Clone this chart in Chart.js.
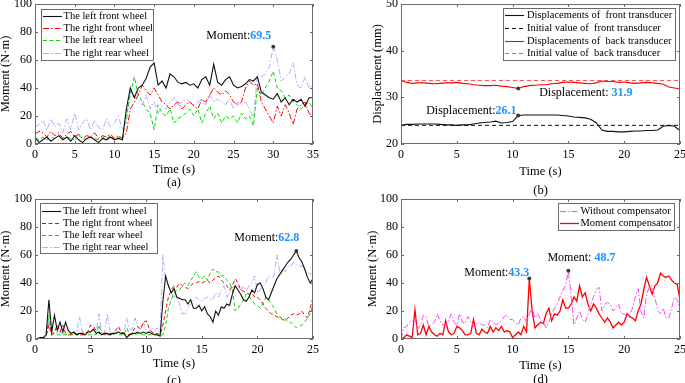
<!DOCTYPE html>
<html>
<head>
<meta charset="utf-8">
<script src="https://cdn.jsdelivr.net/npm/chart.js@4.4.0/dist/chart.umd.min.js"></script>
<style>
  html, body { margin: 0; padding: 0; background: #fff; }
  #fig { position: relative; width: 685px; height: 383px; overflow: hidden; }
  #fig canvas { position: absolute; }
</style>
</head>
<body>
<div id="fig">
  <canvas id="chartA"></canvas>
  <canvas id="chartB"></canvas>
  <canvas id="chartC"></canvas>
  <canvas id="chartD"></canvas>
</div>
<script>
  // sample times (s)
  function sampleTimes(start, end, step) {
    var out = [];
    for (var i = 0; start + i * step <= end + 1e-9; i++) out.push(+(start + i * step).toFixed(2));
    return out;
  }
  var timeA = sampleTimes(0, 35, 0.5);
  var timeB = sampleTimes(0, 25, 0.5);
  var timeC = sampleTimes(0, 25, 0.25);
  var timeD = sampleTimes(0, 25, 0.25);

  var xTicksA = [0, 5, 10, 15, 20, 25, 30, 35];
  var xTicksBCD = [0, 5, 10, 15, 20, 25];
  var yTicksMoment = [0, 20, 40, 60, 80, 100];
  var yTicksDisp = [20, 30, 40, 50];

  // (a) moments, N·m
  var leftFrontA = [
    5,1,3,5,2,4,6,3,5,2,
    6,3,1,4,5,3,1,4,3,5,
    3,4,3,25,40,33,40,42,47,55,
    58,42,45,40,50,48,44,43,44,42,
    43,40,46,48,42,57,44,42,46,48,
    42,40,41,43,46,45,48,37,35,33,
    32,36,30,33,28,32,30,32,27,33,
    33];
  var rightFrontA = [
    7,9,8,5,9,6,8,4,7,9,
    5,7,4,6,5,8,4,6,5,7,
    4,6,4,8,25,30,35,42,38,35,
    40,35,30,28,25,28,30,25,28,30,
    27,25,32,30,35,40,37,35,38,35,
    30,28,30,40,45,42,43,30,25,20,
    15,27,20,28,22,14,25,28,30,22,
    20];
  var leftRearA = [
    4,3,5,3,5,4,6,3,5,4,
    3,6,4,3,5,4,3,5,4,6,
    3,5,4,20,35,48,35,30,25,22,
    10,28,22,20,25,15,18,20,22,25,
    20,25,15,22,27,18,22,15,20,18,
    20,15,22,18,20,13,40,35,40,45,
    52,40,38,33,35,30,28,25,28,30,
    25];
  var rightRearA = [
    12,14,17,10,18,12,15,8,18,10,
    22,10,15,18,10,17,12,10,18,12,
    15,20,10,15,38,35,30,28,35,25,
    30,22,27,25,30,33,28,30,32,30,
    28,30,32,28,35,30,32,30,28,32,
    25,30,28,30,25,18,50,48,50,55,
    69.5,60,45,48,50,58,42,40,48,40,
    42];

  // (b) displacements, mm
  var frontDispB = [
    24.0,24.2,24.2,24.3,24.3,24.3,24.3,24.2,24.1,24.1,
    24.0,24.1,24.1,24.3,24.5,24.6,24.7,24.9,24.5,24.6,
    24.8,26.1,26.2,26.2,26.2,26.2,26.2,26.2,26.2,26.1,
    26.0,25.8,25.7,25.6,25.3,24.5,23.0,22.7,22.7,22.6,
    22.6,22.7,22.8,22.8,22.9,22.9,23.0,23.8,24.0,23.8,
    22.9];
  var backDispB = [
    33.6,33.2,33.0,33.1,33.1,33.0,32.9,33.0,33.1,33.1,
    33.2,33.0,32.9,32.7,32.6,32.5,32.5,32.6,32.4,32.3,
    32.1,31.9,32.3,32.5,32.6,32.7,32.7,32.9,33.0,33.2,
    33.3,33.2,33.1,33.0,32.9,33.1,33.5,33.4,33.4,33.2,
    33.3,33.1,33.0,33.1,33.2,33.1,33.0,32.8,32.2,32.0,
    31.8];
  var frontInitialB = 24.0;
  var backInitialB = 33.6;

  // (c) moments, N·m
  var leftFrontC = [
    0,0.5,1,1,  3,28,5,17,  6,12,5,12,  6,4,5,3,  4,4,3,5,
    5,7,4,5,  3,4,4,3,  4,4,5,4,  4,1,3,4,  4,5,4,5,
    4,5,4,3,  3,2,27,45,  38,33,36,30,  29,28,28,25,  28,22,22,24,
    20,23,18,16,  12,20,17,23,  22,25,24,32,  38,35,32,28,  27,30,35,33,
    39,40,36,30,  28,33,38,43,  46,49,52,55,  57,60,62.8,58,  55,50,44,40,
    43];
  var rightFrontC = [
    0,0,0,1,  2,10,3,5,  10,5,10,4,  3,3,4,3,  3,3,4,5,
    10,9,6,4,  4,3,4,4,  4,6,9,5,  4,3,3,5,  8,9,7,12,
    13,8,5,4,  4,3,10,20,  30,35,38,37,  40,38,37,36,  38,40,40,41,
    40,41,42,40,  42,44,45,42,  40,38,35,38,  43,40,35,34,  33,32,33,30,
    30,28,25,22,  20,18,17,16,  15,14,13,15,  17,18,17,18,  20,17,15,22,
    30];
  var leftRearC = [
    0,0,0,1,  2,17,3,4,  3,3,3,3,  4,3,3,4,  3,3,3,3,
    3,3,3,10,  4,3,3,3,  3,4,3,3,  3,8,3,3,  3,4,3,3,
    3,3,3,3,  3,3,3,10,  22,28,33,35,  35,38,40,38,  42,45,48,44,
    43,45,42,47,  50,48,48,45,  45,42,40,35,  20,22,25,28,  32,30,28,25,
    24,22,25,30,  28,25,22,18,  16,15,14,12,  12,10,8,9,  10,12,15,18,
    25];
  var rightRearC = [
    0,0,0,1,  2,12,4,5,  4,5,4,4,  5,4,4,5,  16,5,5,4,
    5,6,5,18,  5,4,18,5,  4,5,5,4,  5,15,7,7,  15,8,7,12,
    5,5,8,6,  8,5,60,40,  38,33,30,30,  25,18,18,22,  25,28,30,28,
    27,29,30,28,  28,33,30,35,  38,30,33,37,  37,38,35,38,  35,38,40,45,
    33,35,38,40,  45,44,45,60,  48,50,48,52,  52,55,53,52,  52,50,48,46,
    50];

  // (d) moments, N·m
  var withoutCompD = [
    0,8,9,12,  13,14,7,10,  17,16,9,10,  12,18,13,10,  10,13,18,12,
    10,18,12,11,  16,12,9,10,  12,10,10,8,  14,12,10,12,  13,16,17,14,
    14,12,10,15,  16,12,18,22,  15,18,14,12,  8,12,18,22,  25,30,35,38,
    48.7,30,10,15,  20,14,12,18,  25,30,35,37,  20,25,26,25,  20,22,25,18,
    18,16,18,22,  30,36,20,15,  32,37,38,30,  20,18,22,15,  15,22,30,28,
    22];
  var momentCompD = [
    0,1,3,2,  1,21,3,4,  10,3,9,5,  3,2,4,3,  13,5,3,4,
    9,8,6,3,  3,4,14,4,  3,7,5,4,  9,5,8,6,  9,5,6,5,
    1,3,5,3,  9,5,43.3,20,  8,10,12,11,  18,22,13,18,  17,20,28,22,
    22,25,30,27,  38,30,33,25,  20,25,22,18,  15,12,15,12,  8,10,12,10,
    12,18,16,15,  13,20,25,35,  44,38,32,38,  40,47,45,44,  45,42,40,39,
    28];

  // marked peaks: time (s), value
  var peaksA = [{ t: 30, v: 69.5 }];
  var peaksB = [{ t: 10.5, v: 31.9 }, { t: 10.5, v: 26.1 }];
  var peaksC = [{ t: 23.5, v: 62.8 }];
  var peaksD = [{ t: 11.5, v: 43.3 }, { t: 15, v: 48.7 }];

  var serif = "'Times New Roman', 'Liberation Serif', serif";
  var frameColor = '#6a6a6a';
  var noteBlue = '#1e90ff';
  var dashDot = [6, 2, 1.5, 2];
  var dashed = [4, 2.5];

  function pts(times, values) {
    return values.map(function(v, i) { return { x: times[i], y: v }; });
  }

  function line(label, times, values, color, dash, width) {
    return {
      label: label,
      data: pts(times, values),
      borderColor: color,
      borderDash: dash || [],
      borderWidth: width || 1,
      pointRadius: 0,
      tension: 0,
      fill: false
    };
  }

  var figurePlugin = {
    id: 'figure',
    afterDatasetsDraw: function(chart, args, opts) {
      var ctx = chart.ctx, a = chart.chartArea;
      var xs = chart.scales.x, ys = chart.scales.y;
      ctx.save();

      // box and inward ticks
      ctx.strokeStyle = frameColor;
      ctx.lineWidth = 1;
      ctx.setLineDash([]);
      ctx.beginPath();
      xs.ticks.forEach(function(t) {
        var px = Math.round(xs.getPixelForValue(t.value)) + 0.5;
        ctx.moveTo(px, a.bottom); ctx.lineTo(px, a.bottom - 3);
        ctx.moveTo(px, a.top); ctx.lineTo(px, a.top + 3);
      });
      ys.ticks.forEach(function(t) {
        var py = Math.round(ys.getPixelForValue(t.value)) + 0.5;
        ctx.moveTo(a.left, py); ctx.lineTo(a.left + 3, py);
        ctx.moveTo(a.right, py); ctx.lineTo(a.right - 3, py);
      });
      ctx.stroke();
      ctx.strokeRect(a.left + 0.5, a.top + 0.5, a.right - a.left - 1, a.bottom - a.top - 1);

      // peak markers and notes
      (opts.notes || []).forEach(function(n) {
        var px = xs.getPixelForValue(n.t), py = ys.getPixelForValue(n.v);
        ctx.fillStyle = '#3a3a3a';
        ctx.beginPath();
        ctx.arc(px, py, 2, 0, Math.PI * 2);
        ctx.fill();
        ctx.font = '12px ' + serif;
        ctx.textAlign = 'left';
        ctx.textBaseline = 'middle';
        var tx = px + n.dx, ty = py + n.dy;
        ctx.fillStyle = '#000';
        ctx.fillText(n.prefix, tx, ty);
        var w = ctx.measureText(n.prefix).width;
        ctx.font = 'bold 12px ' + serif;
        ctx.fillStyle = noteBlue;
        ctx.fillText(n.v.toFixed(1), tx + w, ty);
      });

      // legend box
      var lg = opts.legend;
      if (lg) {
        var bx = a.left + lg.x, by = a.top + lg.y;
        ctx.fillStyle = '#fff';
        ctx.fillRect(bx, by, lg.w, lg.h);
        ctx.strokeStyle = frameColor;
        ctx.lineWidth = 1;
        ctx.strokeRect(bx + 0.5, by + 0.5, lg.w, lg.h);
        chart.data.datasets.forEach(function(d, i) {
          var yy = Math.round(by + lg.row0 + i * lg.rowH) + 0.5;
          ctx.strokeStyle = d.borderColor;
          ctx.lineWidth = d.borderWidth;
          ctx.setLineDash(d.borderDash || []);
          ctx.beginPath();
          ctx.moveTo(bx + 2, yy);
          ctx.lineTo(bx + 21, yy);
          ctx.stroke();
          ctx.setLineDash([]);
          ctx.fillStyle = '#000';
          ctx.font = '10.5px ' + serif;
          ctx.textAlign = 'left';
          ctx.textBaseline = 'middle';
          ctx.fillText(d.label, bx + lg.textX, yy);
        });
      }

      // caption (a) ... (d)
      ctx.fillStyle = '#000';
      ctx.font = '12.5px ' + serif;
      ctx.textAlign = 'center';
      ctx.textBaseline = 'middle';
      ctx.fillText(opts.caption, (a.left + a.right) / 2, a.bottom + opts.captionDy);
      ctx.restore();
    }
  };

  function makeChart(id, area, yW, xH, xCfg, yCfg, datasets, fig) {
    var padTop = 12, padRight = 14, padBottom = 24;
    var canvas = document.getElementById(id);
    var w = yW + (area.r - area.l) + padRight;
    var h = padTop + (area.b - area.t) + xH + padBottom;
    canvas.width = w;
    canvas.height = h;
    canvas.style.width = w + 'px';
    canvas.style.height = h + 'px';
    canvas.style.left = (area.l - yW) + 'px';
    canvas.style.top = (area.t - padTop) + 'px';

    function axis(cfg, isX) {
      return {
        type: 'linear',
        min: cfg.min,
        max: cfg.max,
        afterBuildTicks: function(scale) {
          scale.ticks = cfg.ticks.map(function(v) { return { value: v }; });
        },
        afterFit: function(scale) {
          if (isX) scale.height = xH; else scale.width = yW;
        },
        grid: { display: false, drawTicks: false },
        border: { display: false },
        ticks: {
          autoSkip: false,
          maxRotation: 0,
          padding: isX ? 4 : 3,
          color: '#000',
          font: { family: serif, size: 12 }
        },
        title: {
          display: true,
          text: cfg.title,
          color: '#000',
          padding: 0,
          font: { family: serif, size: 12.5, lineHeight: 1 }
        }
      };
    }

    return new Chart(canvas.getContext('2d'), {
      type: 'line',
      data: { datasets: datasets },
      options: {
        responsive: false,
        animation: false,
        events: [],
        layout: { padding: { top: padTop, right: padRight, bottom: padBottom, left: 0 } },
        scales: { x: axis(xCfg, true), y: axis(yCfg, false) },
        plugins: {
          legend: { display: false },
          tooltip: { enabled: false },
          figure: fig
        }
      },
      plugins: [figurePlugin]
    });
  }

  var xTime35 = { min: 0, max: 35, ticks: xTicksA, title: 'Time (s)' };
  var xTime25 = { min: 0, max: 25, ticks: xTicksBCD, title: 'Time (s)' };
  var yMoment = { min: 0, max: 100, ticks: yTicksMoment, title: 'Moment (N\u00b7m)' };
  var yDisp = { min: 20, max: 50, ticks: yTicksDisp, title: 'Displacement (mm)' };

  var blueFaint = 'rgba(110,110,255,0.55)';

  makeChart('chartA', { l: 35, t: 4, r: 313, b: 144 }, 36, 32, xTime35, yMoment, [
    line('The left front wheel', timeA, leftFrontA, '#111', [], 1.1),
    line('The right front wheel', timeA, rightFrontA, '#ff0000', dashDot),
    line('The left rear wheel', timeA, leftRearA, '#00dd00', dashed),
    line('The right rear wheel', timeA, rightRearA, blueFaint, dashDot)
  ], {
    caption: '(a)', captionDy: 39,
    legend: { x: 6, y: 5, w: 112, h: 51, row0: 6.5, rowH: 12.4, textX: 22.5 },
    notes: peaksA.map(function(p) { return { t: p.t, v: p.v, prefix: 'Moment:', dx: -67, dy: -10.5 }; })
  });

  makeChart('chartB', { l: 401, t: 4, r: 680, b: 144 }, 30, 34, xTime25, yDisp, [
    line('Displacements of  front transducer', timeB, frontDispB, '#111', [], 1.1),
    line('Initial value of  front transducer', [0, 25], [frontInitialB, frontInitialB], '#111', [4, 3]),
    line('Displacements of  back transducer', timeB, backDispB, '#ff0000', [], 1.1),
    line('Initial value of  back transducer', [0, 25], [backInitialB, backInitialB], '#ff5050', [4, 3])
  ], {
    caption: '(b)', captionDy: 47,
    legend: { x: 102, y: 4, w: 172, h: 52, row0: 7.4, rowH: 12.6, textX: 24 },
    notes: [
      { t: peaksB[0].t, v: peaksB[0].v, prefix: 'Displacement: ', dx: 21, dy: 4 },
      { t: peaksB[1].t, v: peaksB[1].v, prefix: 'Displacement:', dx: -92, dy: -4.5 }
    ]
  });

  makeChart('chartC', { l: 35, t: 199, r: 313, b: 339 }, 36, 31, xTime25, yMoment, [
    line('The left front wheel', timeC, leftFrontC, '#111', [], 1.1),
    line('The right front wheel', timeC, rightFrontC, '#ff0000', dashed),
    line('The left rear wheel', timeC, leftRearC, '#00dd00', dashed),
    line('The right rear wheel', timeC, rightRearC, blueFaint, dashDot)
  ], {
    caption: '(c)', captionDy: 42,
    legend: { x: 5, y: 4, w: 117, h: 50, row0: 8, rowH: 12, textX: 23 },
    notes: peaksC.map(function(p) { return { t: p.t, v: p.v, prefix: 'Moment:', dx: -62, dy: -13.4 }; })
  });

  makeChart('chartD', { l: 401, t: 199, r: 680, b: 339 }, 35, 33, xTime25, yMoment, [
    line('Without compensator', timeD, withoutCompD, '#ff44ff', dashDot),
    line('Moment compensator', timeD, momentCompD, '#ff0000', [], 1.3)
  ], {
    caption: '(d)', captionDy: 41,
    legend: { x: 157, y: 4, w: 116, h: 27, row0: 7.7, rowH: 12.4, textX: 22.5 },
    notes: [
      { t: peaksD[0].t, v: peaksD[0].v, prefix: 'Moment:', dx: -65, dy: -5.7 },
      { t: peaksD[1].t, v: peaksD[1].v, prefix: 'Moment: ', dx: -21, dy: -12.5 }
    ]
  });
</script>
</body>
</html>
